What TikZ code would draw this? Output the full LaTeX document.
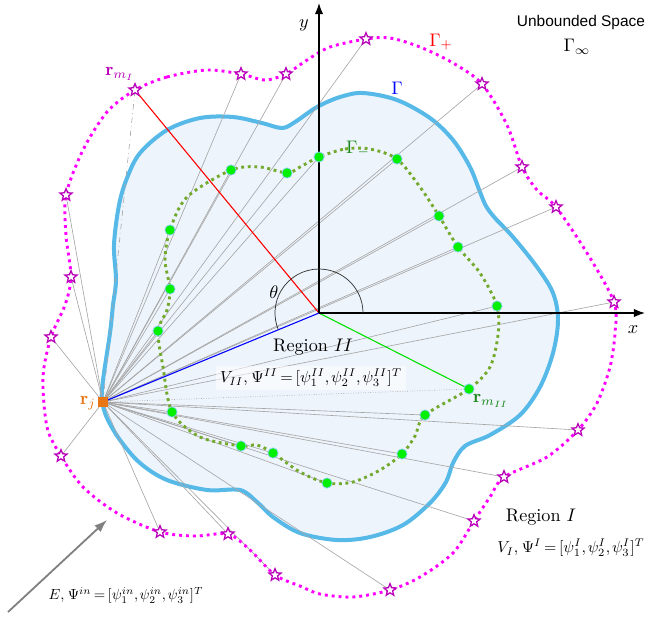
\documentclass[tikz,border=0pt]{standalone}
\usepackage{amsmath, amssymb}
\usepackage{graphicx}
\usepackage{fontspec}
\newfontfamily\spacefont{Liberation Sans}
\usetikzlibrary{arrows.meta, shapes.geometric}

\definecolor{gammablue}{RGB}{86,185,232}
\definecolor{regionfill}{RGB}{238,244,252}
\definecolor{starpurple}{RGB}{185,0,185}
\definecolor{dotpink}{RGB}{255,0,255}
\definecolor{srcorange}{RGB}{232,118,20}
\definecolor{dotgreen}{RGB}{115,170,45}
\definecolor{labgreen}{RGB}{25,135,25}
\definecolor{linegreen}{RGB}{0,225,0}
\definecolor{ptgreen}{RGB}{0,240,0}

\newcommand{\tightmath}{\thickmuskip=3mu\medmuskip=2mu\thinmuskip=2mu}

\pgfdeclarelayer{bg}
\pgfdeclarelayer{mid}
\pgfsetlayers{bg,mid,main}

\tikzset{
  src/.style={star, star points=5, star point ratio=2.3, draw=starpurple, fill=white,
    line width=0.7pt, inner sep=0pt, minimum size=7pt},
  obs/.style={circle, fill=ptgreen, draw=gammablue!70, line width=0.4pt, inner sep=0pt,
    minimum size=5.6pt},
  rjbox/.style={rectangle, fill=srcorange, inner sep=0pt, minimum size=5.5pt},
  ray/.style={gray!70, line width=0.35pt},
  boundary/.style={draw=gammablue, fill=regionfill, line width=2.2pt},
  gplus/.style={dotpink, line width=1.6pt, dash pattern=on 1.6pt off 2.2pt},
  gminus/.style={dotgreen, line width=1.6pt, dash pattern=on 1.6pt off 2.0pt},
}

\begin{document}
\begin{tikzpicture}[x=0.55pt, y=-0.55pt, >=Latex]
  \useasboundingbox (0,0) rectangle (651,616);

  % Sources on Gamma_+
  \foreach \n/\x/\y in {1/135/90, 2/241/74, 3/286/74, 4/366/39, 5/482/84, 6/522/167,
      7/556/207, 8/614/302, 9/578/430, 10/504/477, 11/474/521, 12/390/590, 13/275/575,
      14/228/534, 15/160/532, 16/61/456, 17/51/337, 18/71/277, 19/66/195}
    \node[src] (s\n) at (\x,\y) {};

  % Points on Gamma_-
  \foreach \n/\x/\y in {1/319/157, 2/287/173, 3/231/170, 4/170/230, 5/170/289, 6/158/331,
      7/172/412, 8/241/446, 9/273/453, 10/327/483, 11/402/454, 12/425/415, 13/469/389,
      14/497/306, 15/458/247, 16/439/216, 17/397/159}
    \node[obs] (c\n) at (\x,\y) {};

  % Observation point and origin
  \node[rjbox] (rj) at (103,402) {};
  \coordinate (O) at (319,313);
  \coordinate (xend) at (645,313);
  \coordinate (yend) at (319,3);
  \coordinate (inc0) at (8,612);
  \coordinate (inc1) at (107,520);

  % Region II
  \begin{pgfonlayer}{bg}
    \filldraw[boundary] plot[smooth cycle, tension=0.55] coordinates {
      (103,380) (110,333) (113,305) (116,280) (114,245) (119,205) (127,178) (140,153)
      (167,130) (200,118) (233,117) (262,123) (282,128) (295,122) (317,107) (340,97)
      (363,93) (397,100) (430,118) (453,140) (470,167) (480,192) (486,206) (495,218)
      (513,237) (537,267) (553,293) (558,320) (553,353) (540,387) (520,415) (490,435)
      (465,446) (453,463) (446,482) (430,503) (403,525) (370,537) (337,540) (300,533)
      (273,517) (257,502) (240,490) (207,490) (167,480) (140,463) (120,440) (107,418)
      (102,400)};
  \end{pgfonlayer}

  \begin{pgfonlayer}{mid}
    % Rays from r_j
    \foreach \n in {2,...,19}
      \draw[ray] (rj.center) -- (s\n.center);
    \foreach \n in {1,...,12,14,15,16,17}
      \draw[ray] (rj.center) -- (c\n.center);
    \draw[ray, dash dot] (rj.center) -- (s1.center);
    \draw[ray, densely dotted] (rj.center) -- (c13.center);

    % Gamma_-
    \draw[gminus] plot[smooth cycle] coordinates {
      (c1.center) (345,149) (370,149) (c17.center) (420,187) (c16.center) (c15.center)
      (480,273) (c14.center) (498,335) (490,367) (c13.center) (c12.center) (415,436)
      (c11.center) (380,470) (353,482) (c10.center) (300,472) (c9.center) (257,445)
      (c8.center) (200,437) (c7.center) (163,367) (c6.center) (167,310) (c5.center)
      (165,260) (c4.center) (187,197) (c3.center) (260,167) (c2.center) (300,167)};

    % Gamma_+
    \draw[gplus] plot[smooth cycle] coordinates {
      (s1.center) (167,77) (207,70) (s2.center) (265,80) (s3.center) (307,60) (330,47)
      (s4.center) (390,38) (420,47) (453,63) (s5.center) (507,125) (s6.center) (537,190)
      (s7.center) (587,253) (s8.center) (615,333) (610,367) (597,403) (s9.center)
      (547,457) (s10.center) (490,497) (s11.center) (453,553) (420,577) (s12.center)
      (353,597) (320,594) (300,586) (s13.center) (250,550) (s14.center) (195,536)
      (s15.center) (117,513) (83,487) (s16.center) (47,427) (43,377) (s17.center)
      (65,305) (s18.center) (66,235) (s19.center) (83,150) (107,112)};

    % Position vectors
    \draw[red, line width=0.6pt] (O) -- (s1.center);
    \draw[linegreen, line width=0.6pt] (O) -- (c13.center);
    \draw[blue, line width=0.6pt] (O) -- (rj.center);

    % Axes
    \draw[->, line width=0.7pt] (O) -- (xend);
    \draw[->, line width=0.7pt] (O) -- (yend);
    \draw[black!80, line width=0.4pt] (O) ++(24.2pt,0) arc[start angle=0, end angle=202.4, radius=24.2pt];

    % Incident field
    \draw[-{Latex[length=7pt, width=5pt]}, gray, line width=1pt] (inc0) -- (inc1);
  \end{pgfonlayer}

  % Labels
  \node[text=starpurple] (lrmI) at (120,74) {$\mathbf{r}_{m_I}$};
  \node[text=srcorange] (lrj) at (88,403) {$\mathbf{r}_j$};
  \node[text=labgreen] (lrmII) at (491,401) {$\mathbf{r}_{m_{II}}$};
  \node[text=red] (lgplus) at (441,42) {$\Gamma_+$};
  \node[text=blue] (lgamma) at (397,88) {$\Gamma$};
  \node[text=labgreen] (lgminus) at (358,149) {$\Gamma_-$};
  \node (ltheta) at (274,292) {$\theta$};
  \node (lx) at (633,330) {$x$};
  \node (ly) at (304,25) {$y$};
  \node (lregII) at (313,347) {Region $II$};
  \node[fill=white, fill opacity=0.55, text opacity=1, inner sep=2pt] (lVII) at (311,378)
    {\resizebox{100pt}{!}{\tightmath$V_{II},\,\Psi^{II}=[\psi_1^{II},\psi_2^{II},\psi_3^{II}]^T$}};
  \node (lregI) at (541,517) {Region $I$};
  \node (lVI) at (571,548)
    {\resizebox{81pt}{!}{\tightmath$V_{I},\,\Psi^{I}=[\psi_1^{I},\psi_2^{I},\psi_3^{I}]^T$}};
  \node (lE) at (126,595)
    {\resizebox{85pt}{!}{\tightmath$E,\,\Psi^{in}=[\psi_1^{in},\psi_2^{in},\psi_3^{in}]^T$}};
  \node[font=\spacefont\fontsize{8.5}{10}\selectfont] (lspace) at (581,22) {Unbounded Space};
  \node (linf) at (577,47) {$\Gamma_\infty$};
\end{tikzpicture}
\end{document}
